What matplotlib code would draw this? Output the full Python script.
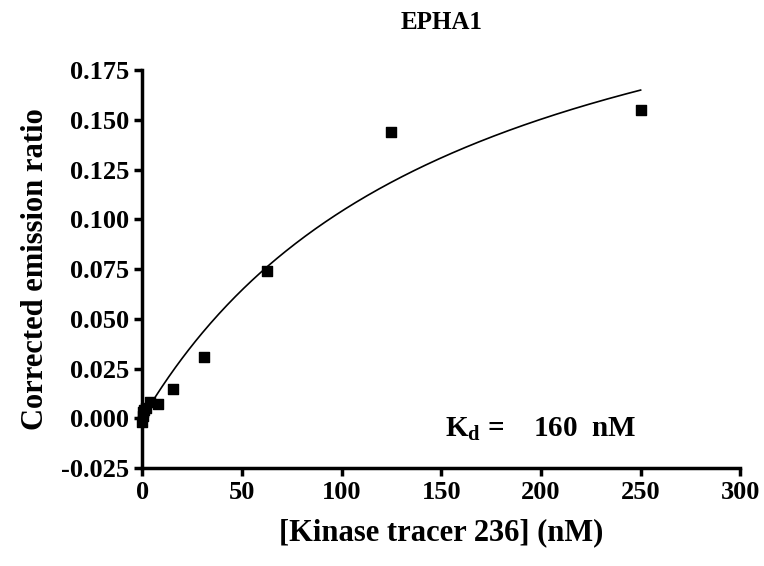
import numpy as np
import matplotlib.pyplot as plt

plt.rcParams['font.family'] = 'Liberation Serif'
plt.rcParams['font.weight'] = 'bold'
plt.rcParams['mathtext.fontset'] = 'custom'
plt.rcParams['mathtext.rm'] = 'Liberation Serif:bold'
plt.rcParams['mathtext.bf'] = 'Liberation Serif:bold'

conc = [250, 125, 62.5, 31.25, 15.6, 7.8, 3.9, 1.95, 0.98, 0.49, 0.24, 0]
ratio = [0.155, 0.144, 0.074, 0.031, 0.015, 0.007, 0.008, 0.005, 0.004, 0.003, 0.001, -0.002]
kd = 160
bmax = 0.2706

fig = plt.figure(figsize=(7.64, 5.66), dpi=100)
ax = fig.add_axes([0.186, 0.173, 0.783, 0.703])

xf = np.linspace(0, 250, 300)
ax.plot(xf, bmax * xf / (kd + xf), color='black', lw=1.2)
ax.scatter(conc, ratio, marker='s', s=60, color='black', clip_on=False, zorder=3)

ax.set_xlim(0, 300)
ax.set_ylim(-0.025, 0.175)
ax.set_xticks(np.arange(0, 301, 50))
ax.set_yticks(np.arange(-0.025, 0.1751, 0.025))
ax.set_yticklabels([f"{v:.3f}" for v in np.arange(-0.025, 0.1751, 0.025)])
for s in ['top', 'right']:
    ax.spines[s].set_visible(False)
for s in ['left', 'bottom']:
    ax.spines[s].set_linewidth(2.5)
ax.tick_params(width=2.5, length=6, labelsize=19)

ax.set_xlabel('[Kinase tracer 236] (nM)', fontsize=22, fontweight='bold', labelpad=10)
ax.set_ylabel('Corrected emission ratio', fontsize=22, fontweight='bold', labelpad=8)
ax.set_title('EPHA1', fontsize=18, fontweight='bold', pad=30)
ax.text(152, -0.009, r'K$_\mathrm{d}$ =    160  nM', fontsize=21, fontweight='bold')

fig.savefig('out.png', dpi=100)
